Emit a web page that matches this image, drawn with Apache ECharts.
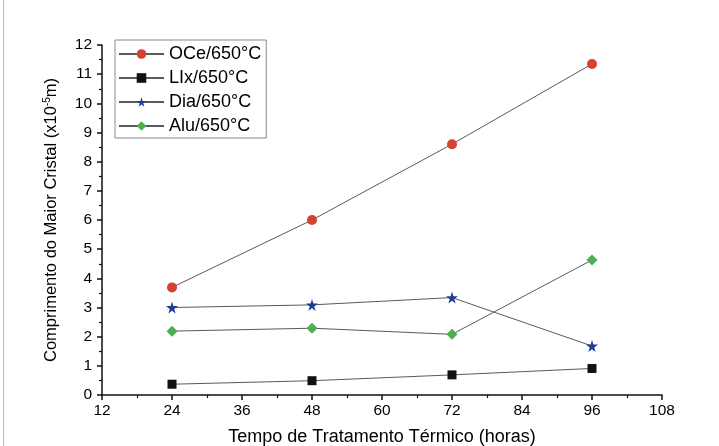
<!DOCTYPE html>
<html>
<head>
<meta charset="utf-8">
<script src="https://cdn.jsdelivr.net/npm/echarts@6/dist/echarts.min.js"></script>
<style>html,body{margin:0;padding:0;background:#fff}#c{width:719px;height:446px}</style>
</head>
<body>
<div id="c"></div>
<script>
var hours = [24, 48, 72, 96];
var oce = [3.69, 6.0, 8.6, 11.35];
var llx = [0.37, 0.49, 0.69, 0.91];
var dia = [3.0, 3.09, 3.34, 1.68];
var alu = [2.19, 2.29, 2.08, 4.63];
var seriesNames = ['OCe/650°C', 'LIx/650°C', 'Dia/650°C', 'Alu/650°C'];
var xTitle = 'Tempo de Tratamento Térmico (horas)';

var star = 'path://M50,0 L61,35 L98,35 L68,57 L79,91 L50,70 L21,91 L32,57 L2,35 L39,35 Z';
function pairs(v){ return hours.map(function(h,i){ return [h, v[i]]; }); }
var font = 'Liberation Sans, Arial, sans-serif';

function mk(name, data, symbol, size, color){
  return {
    name: name, type: 'line', data: pairs(data),
    symbol: symbol, symbolSize: size, showSymbol: true,
    itemStyle: {color: color},
    lineStyle: {color: '#5a5a5a', width: 1},
    emphasis: {disabled: true}, animation: false
  };
}

var chart = echarts.init(document.getElementById('c'));
chart.setOption({
  backgroundColor: '#fff',
  animation: false,
  grid: {left: 102, right: 57, top: 45, bottom: 51, containLabel: false, outerBoundsMode: 'none'},
  graphic: [{type: 'line', shape: {x1: 3.5, y1: 0, x2: 3.5, y2: 446}, style: {stroke: '#bbb', lineWidth: 1}}],
  legend: {
    orient: 'vertical', left: 115, top: 40,
    padding: [5, 5, 3, 3], itemGap: 6,
    itemWidth: 45, itemHeight: 12,
    borderColor: '#8a8a8a', borderWidth: 1,
    textStyle: {fontFamily: font, fontSize: 18, color: '#000', lineHeight: 18},
    data: seriesNames
  },
  xAxis: {
    type: 'value', min: 12, max: 108, interval: 12,
    name: xTitle, nameLocation: 'middle', nameGap: 33,
    nameTextStyle: {fontFamily: font, fontSize: 18, color: '#000'},
    axisLine: {lineStyle: {color: '#111', width: 1.5}},
    axisTick: {show: true, inside: false, length: 5, lineStyle: {color: '#111', width: 1.5}},
    minorTick: {show: true, splitNumber: 2, length: 3, lineStyle: {color: '#111', width: 1.2}},
    axisLabel: {fontFamily: font, fontSize: 15.5, color: '#000', margin: 8},
    splitLine: {show: false}
  },
  yAxis: {
    type: 'value', min: 0, max: 12, interval: 1,
    name: 'Comprimento do Maior Cristal (x10{s|-5}m)', nameLocation: 'middle', nameGap: 42, nameRotate: 90,
    nameTextStyle: {fontFamily: font, fontSize: 16.5, color: '#000',
      rich: {s: {fontFamily: font, fontSize: 10, color: '#000', verticalAlign: 'top', padding: [0,0,8,0]}}},
    axisLine: {show: true, lineStyle: {color: '#111', width: 1.5}},
    axisTick: {show: true, inside: false, length: 5, lineStyle: {color: '#111', width: 1.5}},
    minorTick: {show: true, splitNumber: 2, length: 3, lineStyle: {color: '#111', width: 1.2}},
    axisLabel: {fontFamily: font, fontSize: 15.5, color: '#000', margin: 10},
    splitLine: {show: false}
  },
  series: [
    mk(seriesNames[0], oce, 'circle', 10, '#d8412f'),
    mk(seriesNames[1], llx, 'rect', 9, '#111111'),
    mk(seriesNames[2], dia, star, 12, '#1f3c96'),
    mk(seriesNames[3], alu, 'diamond', 11, '#4caf50')
  ]
});
</script>
</body>
</html>
